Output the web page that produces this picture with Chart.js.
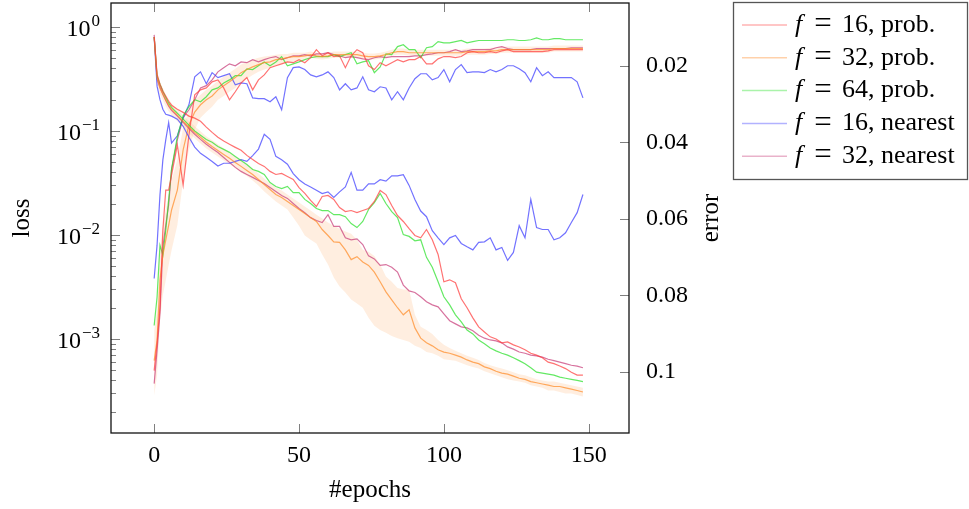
<!DOCTYPE html>
<html>
<head>
<meta charset="utf-8">
<script src="https://cdn.jsdelivr.net/npm/chart.js@4.4.1/dist/chart.umd.min.js"></script>
<style>
  html, body { margin: 0; padding: 0; background: #fff; }
</style>
</head>
<body>
<canvas id="myChart" width="969" height="509"></canvas>
<script>
const epochs = [0, 1, 2, 3, 4, 5, 6, 8, 10, 12,
    14, 16, 18, 20, 22, 24, 26, 28, 30, 32,
    34, 36, 38, 40, 42, 44, 46, 48, 50, 52,
    54, 56, 58, 60, 62, 64, 66, 68, 70, 72,
    74, 76, 78, 80, 82, 84, 86, 88, 90, 92,
    94, 96, 98, 100, 102, 104, 106, 108, 110, 112,
    114, 116, 118, 120, 122, 124, 126, 128, 130, 132,
    134, 136, 138, 140, 142, 144, 146, 148];

const seriesNames = ['f = 16, prob.', 'f = 32, prob.', 'f = 64, prob.', 'f = 16, nearest', 'f = 32, nearest'];

// loss (left, log axis)
const lossF16Prob = [0.80, 0.352, 0.282, 0.241, 0.216, 0.193, 0.177, 0.162, 0.151, 0.139,
    0.133, 0.124, 0.109, 0.097, 0.087, 0.080, 0.0745, 0.0696, 0.0652, 0.0583,
    0.0533, 0.0488, 0.0457, 0.0409, 0.0382, 0.0391, 0.0366, 0.0342, 0.0286, 0.0251,
    0.0215, 0.0188, 0.0235, 0.0240, 0.0220, 0.0184, 0.0168, 0.0172, 0.0164, 0.0172,
    0.0180, 0.0210, 0.0268, 0.0245, 0.0192, 0.0154, 0.0135, 0.0115, 0.0099, 0.0094,
    0.0113, 0.0090, 0.0065, 0.00355, 0.00371, 0.00348, 0.00244, 0.00200, 0.00160, 0.00131,
    0.00117, 0.00105, 0.00100, 0.00092, 0.00094, 0.00088, 0.00084, 0.00079, 0.00073, 0.00070,
    0.00066, 0.00060, 0.00058, 0.00055, 0.00052, 0.00048, 0.00045, 0.00045];
const lossF32Prob = [0.80, 0.322, 0.258, 0.226, 0.198, 0.177, 0.162, 0.142, 0.124, 0.109,
    0.097, 0.087, 0.078, 0.071, 0.065, 0.0596, 0.0546, 0.0499, 0.0457, 0.0418,
    0.0382, 0.0342, 0.0306, 0.0274, 0.0245, 0.0230, 0.0210, 0.0192, 0.0176, 0.0161,
    0.0147, 0.0135, 0.0113, 0.0099, 0.0086, 0.0085, 0.0072, 0.0058, 0.0062, 0.0055,
    0.0051, 0.0044, 0.00355, 0.00284, 0.00238, 0.00200, 0.00171, 0.00191, 0.00128, 0.00102,
    0.00092, 0.00086, 0.00079, 0.00075, 0.00073, 0.00070, 0.00067, 0.00063, 0.00060, 0.00058,
    0.00054, 0.00052, 0.00049, 0.00047, 0.00046, 0.00044, 0.00042, 0.00041, 0.00039, 0.00038,
    0.00037, 0.00036, 0.00035, 0.00035, 0.00034, 0.00033, 0.00032, 0.00031];
const lossF32ProbHi = [0.84, 0.360, 0.295, 0.258, 0.226, 0.202, 0.185, 0.162, 0.142, 0.124,
    0.111, 0.0994, 0.0889, 0.0813, 0.0745, 0.0681, 0.0623, 0.0570, 0.0521, 0.0477,
    0.0437, 0.0391, 0.0350, 0.0313, 0.0286, 0.0268, 0.0245, 0.0225, 0.0205, 0.0188,
    0.0172, 0.0157, 0.0144, 0.0132, 0.0123, 0.0115, 0.0108, 0.0103, 0.0090, 0.0072,
    0.0069, 0.0063, 0.0052, 0.0040, 0.00355, 0.0031, 0.0030, 0.0030, 0.00171, 0.00131,
    0.00122, 0.00112, 0.00098, 0.00088, 0.00082, 0.00077, 0.00073, 0.00069, 0.00066, 0.00063,
    0.00059, 0.00056, 0.00054, 0.00052, 0.00050, 0.00048, 0.00046, 0.00045, 0.00043, 0.00041,
    0.00040, 0.00039, 0.00039, 0.00038, 0.00037, 0.00036, 0.00035, 0.00034];
const lossF32ProbLo = [0.77, 0.288, 0.226, 0.198, 0.173, 0.155, 0.142, 0.124, 0.109, 0.095,
    0.085, 0.076, 0.068, 0.062, 0.057, 0.052, 0.048, 0.044, 0.040, 0.037,
    0.0335, 0.0299, 0.0262, 0.0235, 0.0210, 0.0192, 0.0176, 0.0147, 0.0123, 0.0099,
    0.0090, 0.0083, 0.0065, 0.0052, 0.0039, 0.0032, 0.0028, 0.0024, 0.0022, 0.0020,
    0.0016, 0.00134, 0.00122, 0.00115, 0.00107, 0.00102, 0.00098, 0.00094, 0.00086, 0.00082,
    0.00075, 0.00073, 0.00069, 0.00064, 0.00063, 0.00062, 0.00059, 0.00056, 0.00054, 0.00052,
    0.00049, 0.00047, 0.00045, 0.00043, 0.00041, 0.00040, 0.00039, 0.00038, 0.00036, 0.00035,
    0.00034, 0.00032, 0.00032, 0.00031, 0.00030, 0.00030, 0.00029, 0.00028];
const lossF64Prob = [0.80, 0.337, 0.282, 0.241, 0.211, 0.185, 0.169, 0.148, 0.130, 0.114,
    0.100, 0.091, 0.083, 0.078, 0.071, 0.0666, 0.0623, 0.0570, 0.0521, 0.0477,
    0.0427, 0.0409, 0.0382, 0.0320, 0.0293, 0.0280, 0.0293, 0.0256, 0.0256, 0.0220,
    0.0201, 0.0180, 0.0172, 0.0172, 0.0157, 0.0157, 0.0150, 0.0129, 0.0118, 0.0135,
    0.0176, 0.0205, 0.0251, 0.0201, 0.0168, 0.0147, 0.0101, 0.0097, 0.0088, 0.0090,
    0.0061, 0.0049, 0.00355, 0.00255, 0.00213, 0.00171, 0.00146, 0.00122, 0.00112, 0.00098,
    0.00090, 0.00082, 0.00077, 0.00073, 0.00070, 0.00066, 0.00062, 0.00058, 0.00053, 0.00048,
    0.00047, 0.00046, 0.00045, 0.00043, 0.00042, 0.00041, 0.00040, 0.00039];
const lossF16Near = [0.80, 0.27, 0.20, 0.162, 0.145, 0.142, 0.139, 0.130, 0.111, 0.087,
    0.070, 0.061, 0.056, 0.051, 0.046, 0.049, 0.049, 0.051, 0.053, 0.051,
    0.058, 0.067, 0.093, 0.083, 0.057, 0.053, 0.048, 0.039, 0.034, 0.031,
    0.029, 0.027, 0.025, 0.026, 0.023, 0.026, 0.029, 0.040, 0.027, 0.027,
    0.031, 0.031, 0.034, 0.033, 0.037, 0.037, 0.038, 0.030, 0.022, 0.017,
    0.015, 0.011, 0.0094, 0.0081, 0.0094, 0.0099, 0.0083, 0.0077, 0.0072, 0.0085,
    0.0086, 0.0094, 0.0072, 0.0076, 0.0057, 0.0068, 0.0123, 0.0094, 0.022, 0.0118,
    0.0113, 0.0113, 0.0090, 0.0094, 0.0105, 0.0132, 0.0164, 0.0245];
const lossF32Near = [0.84, 0.315, 0.264, 0.226, 0.198, 0.173, 0.158, 0.139, 0.121, 0.106,
    0.093, 0.083, 0.0745, 0.068, 0.062, 0.0557, 0.0499, 0.0447, 0.0409, 0.0382,
    0.0358, 0.0335, 0.0313, 0.0286, 0.0262, 0.0240, 0.0225, 0.0201, 0.0180, 0.0164,
    0.0147, 0.0138, 0.0132, 0.0157, 0.0121, 0.0121, 0.0094, 0.0090, 0.0092, 0.0081,
    0.0063, 0.0059, 0.0051, 0.0052, 0.0049, 0.0044, 0.0033, 0.0029, 0.0028, 0.00255,
    0.00228, 0.00213, 0.00204, 0.00175, 0.00150, 0.00140, 0.00131, 0.00128, 0.00120, 0.00109,
    0.00102, 0.00098, 0.00096, 0.00092, 0.00084, 0.00080, 0.00075, 0.00073, 0.00070, 0.00069,
    0.00067, 0.00064, 0.00062, 0.00060, 0.00058, 0.00056, 0.00055, 0.00053];

// error (right, reversed linear axis)
const errF16Prob = [0.0997, 0.0926, 0.0832, 0.0630, 0.0525, 0.0525, 0.0486, 0.0407, 0.0512, 0.0381,
    0.0276, 0.0263, 0.0258, 0.0242, 0.0237, 0.0258, 0.0289, 0.0268, 0.0245, 0.0231,
    0.0263, 0.0237, 0.0224, 0.0205, 0.0200, 0.0195, 0.0190, 0.0192, 0.0184, 0.0192,
    0.0179, 0.0158, 0.0174, 0.0166, 0.0176, 0.0174, 0.0205, 0.0174, 0.0158, 0.0166,
    0.0200, 0.0210, 0.0192, 0.0200, 0.0192, 0.0184, 0.0190, 0.0184, 0.0184, 0.0176,
    0.0195, 0.0195, 0.0182, 0.0176, 0.0176, 0.0179, 0.0176, 0.0166, 0.0163, 0.0166,
    0.0166, 0.0163, 0.0166, 0.0161, 0.0158, 0.0163, 0.0163, 0.0163, 0.0163, 0.0163,
    0.0163, 0.0161, 0.0158, 0.0158, 0.0158, 0.0158, 0.0158, 0.0158];
const errF32Prob = [0.0971, 0.0918, 0.0761, 0.0695, 0.0656, 0.0617, 0.0577, 0.0525, 0.0420, 0.0355,
    0.0321, 0.0302, 0.0289, 0.0279, 0.0263, 0.0252, 0.0242, 0.0231, 0.0218, 0.0210,
    0.0203, 0.0197, 0.0192, 0.0190, 0.0184, 0.0182, 0.0179, 0.0176, 0.0176, 0.0174,
    0.0171, 0.0174, 0.0176, 0.0174, 0.0171, 0.0171, 0.0171, 0.0171, 0.0171, 0.0174,
    0.0176, 0.0176, 0.0174, 0.0171, 0.0166, 0.0163, 0.0163, 0.0166, 0.0166, 0.0166,
    0.0166, 0.0166, 0.0166, 0.0166, 0.0166, 0.0166, 0.0166, 0.0163, 0.0163, 0.0163,
    0.0163, 0.0161, 0.0161, 0.0158, 0.0158, 0.0158, 0.0158, 0.0158, 0.0158, 0.0158,
    0.0158, 0.0158, 0.0155, 0.0155, 0.0155, 0.0155, 0.0155, 0.0155];
const errF32ProbLo = [0.0892, 0.0839, 0.0682, 0.0617, 0.0577, 0.0538, 0.0499, 0.0446, 0.0362, 0.0315,
    0.0289, 0.0276, 0.0263, 0.0252, 0.0239, 0.0229, 0.0218, 0.0208, 0.0197, 0.0190,
    0.0184, 0.0179, 0.0176, 0.0174, 0.0171, 0.0169, 0.0169, 0.0166, 0.0166, 0.0166,
    0.0163, 0.0166, 0.0168, 0.0166, 0.0163, 0.0163, 0.0163, 0.0163, 0.0163, 0.0166,
    0.0168, 0.0168, 0.0166, 0.0163, 0.0158, 0.0155, 0.0155, 0.0158, 0.0158, 0.0158,
    0.0158, 0.0158, 0.0158, 0.0158, 0.0158, 0.0158, 0.0158, 0.0155, 0.0155, 0.0155,
    0.0155, 0.0153, 0.0153, 0.0150, 0.0150, 0.0150, 0.0150, 0.0150, 0.0150, 0.0150,
    0.0150, 0.0150, 0.0147, 0.0147, 0.0147, 0.0147, 0.0147, 0.0147];
const errF32ProbHi = [0.1062, 0.1010, 0.0866, 0.0800, 0.0761, 0.0721, 0.0682, 0.0617, 0.0499, 0.0420,
    0.0368, 0.0336, 0.0321, 0.0307, 0.0289, 0.0279, 0.0268, 0.0258, 0.0242, 0.0234,
    0.0224, 0.0216, 0.0210, 0.0205, 0.0200, 0.0195, 0.0192, 0.0190, 0.0187, 0.0182,
    0.0179, 0.0182, 0.0184, 0.0182, 0.0179, 0.0179, 0.0179, 0.0179, 0.0179, 0.0182,
    0.0184, 0.0184, 0.0182, 0.0179, 0.0174, 0.0171, 0.0171, 0.0174, 0.0174, 0.0174,
    0.0174, 0.0174, 0.0174, 0.0174, 0.0174, 0.0174, 0.0174, 0.0171, 0.0171, 0.0171,
    0.0171, 0.0169, 0.0169, 0.0166, 0.0166, 0.0166, 0.0166, 0.0166, 0.0166, 0.0166,
    0.0166, 0.0166, 0.0163, 0.0163, 0.0163, 0.0163, 0.0163, 0.0163];
const errF64Prob = [0.0879, 0.0805, 0.0669, 0.0695, 0.0630, 0.0551, 0.0470, 0.0385, 0.0331, 0.0307,
    0.0289, 0.0294, 0.0281, 0.0263, 0.0258, 0.0245, 0.0237, 0.0226, 0.0226, 0.0208,
    0.0210, 0.0200, 0.0190, 0.0200, 0.0190, 0.0176, 0.0200, 0.0195, 0.0190, 0.0184,
    0.0179, 0.0176, 0.0176, 0.0176, 0.0171, 0.0176, 0.0171, 0.0166, 0.0195, 0.0190,
    0.0187, 0.0218, 0.0203, 0.0169, 0.0171, 0.0150, 0.0145, 0.0158, 0.0158, 0.0179,
    0.0153, 0.0150, 0.0137, 0.0140, 0.0140, 0.0137, 0.0134, 0.0140, 0.0137, 0.0134,
    0.0134, 0.0134, 0.0134, 0.0134, 0.0132, 0.0132, 0.0134, 0.0134, 0.0132, 0.0127,
    0.0132, 0.0132, 0.0129, 0.0129, 0.0132, 0.0132, 0.0132, 0.0132];
const errF16Near = [0.0756, 0.0669, 0.0538, 0.0446, 0.0394, 0.0349, 0.0402, 0.0383, 0.0336, 0.0302,
    0.0229, 0.0216, 0.0247, 0.0218, 0.0231, 0.0226, 0.0221, 0.0250, 0.0245, 0.0247,
    0.0284, 0.0286, 0.0286, 0.0294, 0.0281, 0.0315, 0.0231, 0.0205, 0.0203, 0.0210,
    0.0224, 0.0229, 0.0224, 0.0216, 0.0231, 0.0263, 0.0247, 0.0263, 0.0258, 0.0229,
    0.0263, 0.0268, 0.0255, 0.0258, 0.0289, 0.0268, 0.0289, 0.0258, 0.0234, 0.0221,
    0.0221, 0.0237, 0.0231, 0.0210, 0.0242, 0.0210, 0.0197, 0.0218, 0.0216, 0.0216,
    0.0218, 0.0210, 0.0216, 0.0210, 0.0200, 0.0200, 0.0208, 0.0218, 0.0242, 0.0205,
    0.0226, 0.0216, 0.0231, 0.0231, 0.0231, 0.0231, 0.0242, 0.0284];
const errF32Near = [0.1031, 0.0944, 0.0847, 0.0674, 0.0617, 0.0564, 0.0472, 0.0394, 0.0336, 0.0315,
    0.0289, 0.0258, 0.0252, 0.0237, 0.0216, 0.0205, 0.0195, 0.0200, 0.0190, 0.0192,
    0.0184, 0.0190, 0.0184, 0.0179, 0.0176, 0.0184, 0.0179, 0.0174, 0.0174, 0.0171,
    0.0174, 0.0169, 0.0169, 0.0166, 0.0171, 0.0174, 0.0179, 0.0176, 0.0179, 0.0182,
    0.0184, 0.0179, 0.0176, 0.0179, 0.0176, 0.0176, 0.0176, 0.0176, 0.0174, 0.0174,
    0.0171, 0.0169, 0.0166, 0.0166, 0.0163, 0.0158, 0.0163, 0.0161, 0.0158, 0.0158,
    0.0158, 0.0158, 0.0153, 0.0150, 0.0155, 0.0158, 0.0158, 0.0158, 0.0158, 0.0155,
    0.0155, 0.0155, 0.0155, 0.0155, 0.0155, 0.0153, 0.0153, 0.0153];

// tick positions / labels
const xTicks = [0, 50, 100, 150];
const lossMajorTicks = [1e-3, 1e-2, 1e-1, 1];
const errorTicks = [0.02, 0.04, 0.06, 0.08, 0.1];
const errorTickLabels = ['0.02', '0.04', '0.06', '0.08', '0.1'];

const FONT = '"Liberation Serif", "Times New Roman", serif';

const toPoints = (values) => values.map((v, i) => ({ x: epochs[i], y: v }));

function lineSet(label, values, color, axis, inLegend) {
    return {
        label: label,
        data: toPoints(values),
        borderColor: color,
        borderWidth: 1.2,
        pointRadius: 0,
        tension: 0,
        fill: false,
        yAxisID: axis,
        inLegend: inLegend
    };
}

function bandSet(values, axis, fillTo) {
    return {
        label: 'band',
        data: toPoints(values),
        borderWidth: 0,
        borderColor: 'rgba(0,0,0,0)',
        backgroundColor: 'rgba(255,170,100,0.2)',
        pointRadius: 0,
        tension: 0,
        fill: fillTo,
        yAxisID: axis,
        order: 1
    };
}

const colors = ['rgba(255,60,60,0.72)', 'rgba(255,140,40,0.72)', 'rgba(40,225,40,0.72)',
    'rgba(60,60,255,0.72)', 'rgba(200,60,120,0.72)'];

// no label overhang padding, the chart area is set by the afterFit sizes
const noPad = s => { s.paddingTop = 0; s.paddingBottom = 0; s.paddingLeft = 0; s.paddingRight = 0; };

// axis frame, inward ticks, superscript labels, right title
const axisDecor = {
    id: 'axisDecor',
    afterDraw(chart) {
        const { ctx, chartArea: a, scales } = chart;
        const seg = (x1, y1, x2, y2) => { ctx.beginPath(); ctx.moveTo(x1, y1); ctx.lineTo(x2, y2); ctx.stroke(); };
        ctx.save();
        ctx.strokeStyle = 'rgba(0,0,0,0.5)';
        ctx.lineWidth = 1;
        xTicks.forEach(v => {
            const p = Math.round(scales.x.getPixelForValue(v)) + 0.5;
            seg(p, a.bottom, p, a.bottom - 9);
            seg(p, a.top, p, a.top + 9);
        });
        errorTicks.forEach(v => {
            const p = Math.round(scales.y1.getPixelForValue(v)) + 0.5;
            seg(a.right, p, a.right - 9, p);
        });
        scales.y.ticks.forEach(t => {
            const p = Math.round(scales.y.getPixelForValue(t.value)) + 0.5;
            const major = lossMajorTicks.indexOf(t.value) >= 0;
            seg(a.left, p, a.left + (major ? 9 : 5), p);
        });
        ctx.strokeStyle = '#111';
        ctx.lineWidth = 1.3;
        ctx.strokeRect(a.left, a.top, a.right - a.left, a.bottom - a.top);

        // 10^n labels
        ctx.fillStyle = '#000';
        ctx.textAlign = 'left';
        ctx.textBaseline = 'alphabetic';
        lossMajorTicks.forEach(v => {
            const p = scales.y.getPixelForValue(v);
            const e = Math.round(Math.log10(v));
            const sup = e === 0 ? '0' : '\u2212' + Math.abs(e);
            ctx.font = '17px ' + FONT;
            const ws = ctx.measureText(sup).width;
            ctx.font = '24px ' + FONT;
            const wb = ctx.measureText('10').width;
            const right = a.left - 11;
            ctx.fillText('10', right - ws - wb - 1, p + 9);
            ctx.font = '17px ' + FONT;
            ctx.fillText(sup, right - ws, p - 1);
        });

        // right axis title, reads bottom to top
        ctx.save();
        ctx.translate(711, (a.top + a.bottom) / 2);
        ctx.rotate(-Math.PI / 2);
        ctx.font = '25px ' + FONT;
        ctx.textAlign = 'center';
        ctx.textBaseline = 'middle';
        ctx.fillText('error', 0, 0);
        ctx.restore();
        ctx.restore();
    }
};

// boxed legend with italic f
const legendBox = {
    id: 'legendBox',
    afterDraw(chart) {
        const ctx = chart.ctx;
        const rows = chart.data.datasets.filter(d => d.inLegend);
        ctx.save();
        ctx.strokeStyle = '#555';
        ctx.lineWidth = 1.3;
        ctx.strokeRect(733.5, 2.5, 234, 177);
        rows.forEach((d, i) => {
            const y = 25 + i * 32.8;
            ctx.globalAlpha = 0.55;
            ctx.strokeStyle = d.borderColor;
            ctx.lineWidth = 1.5;
            ctx.beginPath(); ctx.moveTo(742, y); ctx.lineTo(787, y); ctx.stroke();
            ctx.globalAlpha = 1;
            const parts = d.label.match(/^(\S+) = (.*)$/);
            ctx.fillStyle = '#000';
            ctx.textBaseline = 'middle';
            ctx.textAlign = 'left';
            ctx.font = 'italic 26px ' + FONT;
            ctx.fillText(parts[1], 795, y);
            ctx.textAlign = 'center';
            ctx.font = '31px ' + FONT;
            ctx.fillText('=', 823, y);
            ctx.textAlign = 'left';
            ctx.font = '26px ' + FONT;
            ctx.fillText(parts[2], 842, y);
        });
        ctx.restore();
    }
};

var ctx = document.getElementById('myChart').getContext('2d');
var chart = new Chart(ctx, {
    type: 'line',
    data: {
        datasets: [
            bandSet(lossF32ProbHi, 'y', '+1'),
            bandSet(lossF32ProbLo, 'y', false),
            bandSet(errF32ProbHi, 'y1', '+1'),
            bandSet(errF32ProbLo, 'y1', false),
            lineSet(seriesNames[0], lossF16Prob, colors[0], 'y', true),
            lineSet(seriesNames[1], lossF32Prob, colors[1], 'y', true),
            lineSet(seriesNames[2], lossF64Prob, colors[2], 'y', true),
            lineSet(seriesNames[3], lossF16Near, colors[3], 'y', true),
            lineSet(seriesNames[4], lossF32Near, colors[4], 'y', true),
            lineSet(seriesNames[0], errF16Prob, colors[0], 'y1', false),
            lineSet(seriesNames[1], errF32Prob, colors[1], 'y1', false),
            lineSet(seriesNames[2], errF64Prob, colors[2], 'y1', false),
            lineSet(seriesNames[3], errF16Near, colors[3], 'y1', false),
            lineSet(seriesNames[4], errF32Near, colors[4], 'y1', false)
        ]
    },
    options: {
        responsive: false,
        animation: false,
        devicePixelRatio: 1,
        layout: { padding: { left: 0, top: 3, right: 244, bottom: 0 }, autoPadding: false },
        plugins: { legend: { display: false }, tooltip: { enabled: false } },
        scales: {
            x: {
                type: 'linear', position: 'bottom', min: -14.9, max: 163.9,
                grid: { display: false }, border: { display: false },
                afterBuildTicks: s => { s.ticks = xTicks.map(v => ({ value: v })); },
                afterFit: s => { s.height = 76; noPad(s); },
                ticks: { autoSkip: false, maxRotation: 0, padding: 0, color: '#000', font: { family: FONT, size: 24 } },
                title: { display: true, text: '#epochs', color: '#000', font: { family: FONT, size: 25 }, padding: { top: 0, bottom: 4 } }
            },
            y: {
                type: 'logarithmic', position: 'left', min: 1.25e-4, max: 1.70,
                grid: { display: false }, border: { display: false },
                afterBuildTicks: s => {
                    const t = [];
                    [1e-4, 1e-3, 1e-2, 1e-1, 1].forEach(d => {
                        for (let m = 1; m <= 9; m++) {
                            const v = m === 1 ? d : m * d;
                            if (v >= s.min && v <= s.max) t.push({ value: v });
                        }
                    });
                    s.ticks = t;
                },
                afterFit: s => { s.width = 111; noPad(s); },
                ticks: { display: false },
                title: { display: true, text: 'loss', color: '#000', font: { family: FONT, size: 25 }, padding: { top: 7, bottom: 0 } }
            },
            y1: {
                type: 'linear', position: 'right', min: 0.0036, max: 0.1160, reverse: true,
                grid: { display: false }, border: { display: false },
                afterBuildTicks: s => { s.ticks = errorTicks.map(v => ({ value: v })); },
                afterFit: s => { s.width = 96; noPad(s); },
                ticks: { autoSkip: false, padding: 9, color: '#000', font: { family: FONT, size: 24 },
                    callback: (v, i) => errorTickLabels[i] }
            }
        }
    },
    plugins: [axisDecor, legendBox]
});
</script>
</body>
</html>
